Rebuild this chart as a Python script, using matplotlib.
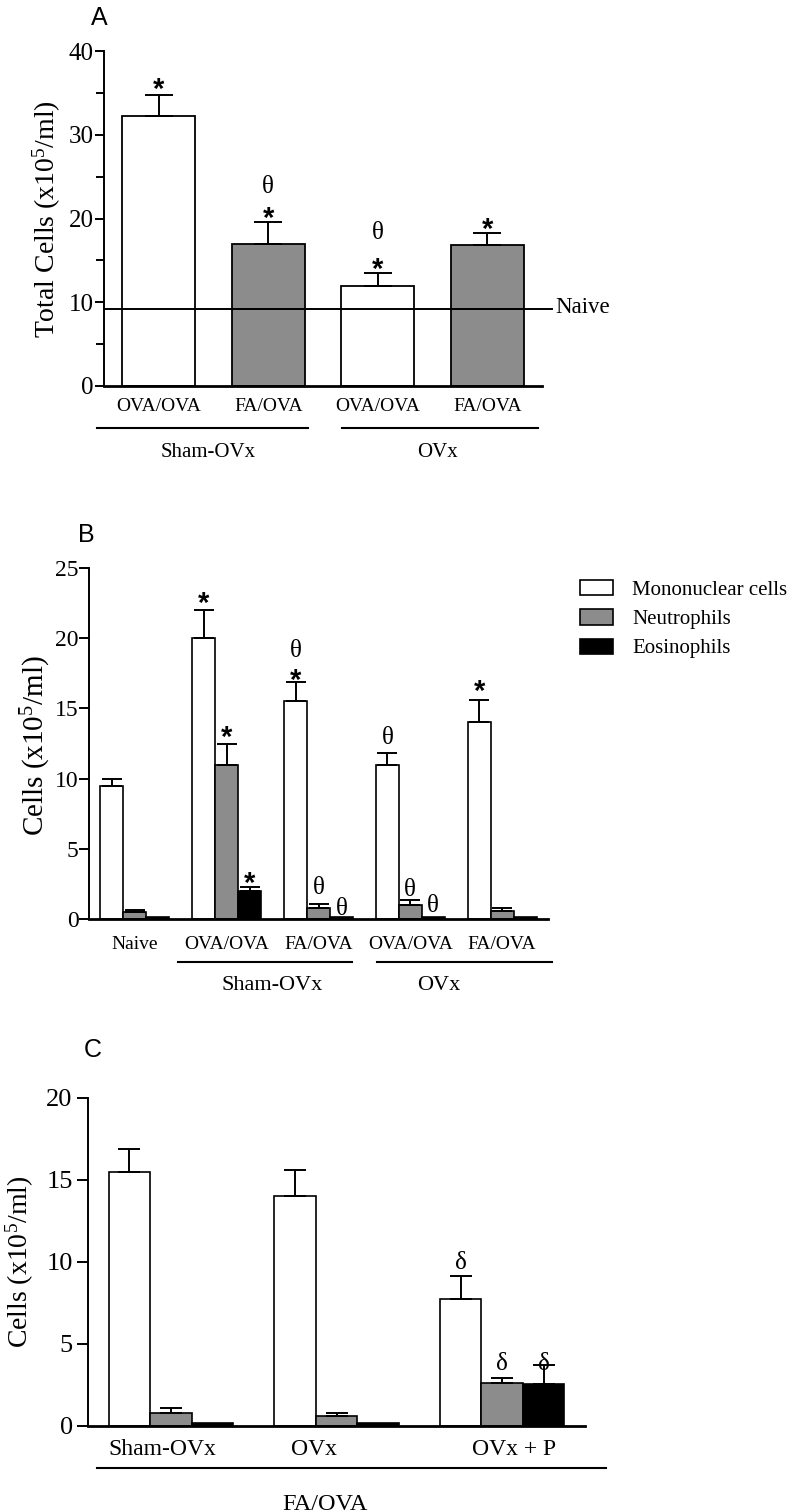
import matplotlib
matplotlib.use('Agg')
import matplotlib.pyplot as plt
from matplotlib.lines import Line2D
import numpy as np

# ---------------- data ----------------
# Panel A: total cells
A_labels = ['OVA/OVA', 'FA/OVA', 'OVA/OVA', 'FA/OVA']
A_groups = ['Sham-OVx', 'OVx']
A_total = [32.2, 17.0, 12.0, 16.8]
A_err = [2.5, 2.6, 1.5, 1.5]
A_naive = 9.15
A_star_y = [36.4, 21.0, 14.9, 19.7]
A_theta_y = [np.nan, 24.1, 18.6, np.nan]

# Panel B: cell types
B_labels = ['Naive', 'OVA/OVA', 'FA/OVA', 'OVA/OVA', 'FA/OVA']
B_groups = ['Sham-OVx', 'OVx']
series_names = ['Mononuclear cells', 'Neutrophils', 'Eosinophils']
B_mono = [9.5, 20.0, 15.5, 11.0, 14.0]
B_mono_err = [0.5, 2.0, 1.4, 0.8, 1.6]
B_neut = [0.5, 11.0, 0.76, 0.97, 0.57]
B_neut_err = [0.17, 1.5, 0.29, 0.38, 0.19]
B_eos = [0.17, 2.0, 0.17, 0.17, 0.17]
B_eos_err = [np.nan, 0.25, np.nan, np.nan, np.nan]
# (group, series, y)
B_stars = [(1, 0, 23.1), (1, 1, 13.5), (1, 2, 3.13), (2, 0, 17.6), (4, 0, 16.8)]
B_thetas = [(2, 0, 19.3), (2, 1, 2.4), (2, 2, 0.88), (3, 0, 13.05), (3, 1, 2.26), (3, 2, 1.12)]

# Panel C: FA/OVA groups
C_labels = ['Sham-OVx', 'OVx', 'OVx + P']
C_group = 'FA/OVA'
C_mono = [15.5, 14.0, 7.75]
C_mono_err = [1.4, 1.6, 1.4]
C_neut = [0.8, 0.6, 2.65]
C_neut_err = [0.3, 0.18, 0.3]
C_eos = [0.2, 0.2, 2.55]
C_eos_err = [np.nan, np.nan, 1.2]
C_deltas = [(2, 0, 10.08), (2, 1, 3.92), (2, 2, 3.92)]

# ---------------- style ----------------
SERIF = ['Liberation Serif', 'DejaVu Serif']
SANS = ['Liberation Sans', 'DejaVu Sans']
plt.rcParams['font.family'] = SERIF
plt.rcParams['mathtext.fontset'] = 'custom'
plt.rcParams['mathtext.rm'] = 'Liberation Serif'
plt.rcParams['mathtext.it'] = 'Liberation Serif:italic'

GRAY = '#8c8c8c'
SERIES_COLORS = ['white', GRAY, 'black']

W, H, DPI = 794, 1512, 100
fig = plt.figure(figsize=(W / DPI, H / DPI), dpi=DPI)


def fx(p):
    return p / W


def fy(p):
    return 1 - p / H


def rect(l, t, r, b):
    return [fx(l), fy(b), fx(r) - fx(l), fy(t) - fy(b)]


def hline_px(x0, x1, y, lw=1.5):
    fig.add_artist(Line2D([fx(x0), fx(x1)], [fy(y), fy(y)], color='black', lw=lw))


def text_px(x, y, s, size, **kw):
    fig.text(fx(x), fy(y), s, fontsize=size, ha='center', va='center_baseline', **kw)


def style_axes(ax, ticklen, ticksize, pad):
    for s in ['top', 'right']:
        ax.spines[s].set_visible(False)
    ax.spines['left'].set_linewidth(1.4)
    ax.spines['bottom'].set_linewidth(2.0)
    ax.tick_params(axis='y', which='major', length=ticklen, width=1.4,
                   labelsize=ticksize, pad=pad, direction='out')
    ax.tick_params(axis='x', length=0)


STAR_FS = 21
GREEK_FS = 18


def star(ax, x, y):
    ax.annotate('*', (x, y), xytext=(0, -0.575 * STAR_FS), textcoords='offset points',
                ha='center', va='baseline', fontsize=STAR_FS, family=SANS,
                fontweight='bold', annotation_clip=False)


def greek(ax, x, y, s):
    ax.annotate(s, (x, y), xytext=(0, -0.34 * GREEK_FS), textcoords='offset points',
                ha='center', va='baseline', fontsize=GREEK_FS, family=SERIF,
                annotation_clip=False)


def upper_err(ax, x, y, e, cap):
    e = np.asarray(e, dtype=float)
    ok = ~np.isnan(e)
    x = np.asarray(x)[ok]
    y = np.asarray(y, dtype=float)[ok]
    e = e[ok]
    ax.errorbar(x, y, yerr=[np.zeros_like(e), e], fmt='none', ecolor='black',
                elinewidth=1.4, capsize=cap, capthick=1.4, zorder=3)


# ---------------- Panel A ----------------
axA = fig.add_axes(rect(104, 51, 542, 386))
xA = np.arange(len(A_labels))
A_colors = ['white', GRAY, 'white', GRAY]
axA.bar(xA, A_total, width=0.665, color=A_colors, edgecolor='black', linewidth=1.3, zorder=2)
upper_err(axA, xA, A_total, A_err, 10)
axA.set_xlim(-0.5, 3.5)
axA.set_ylim(0, 40)
axA.set_yticks([0, 10, 20, 30, 40])
axA.set_yticks([5, 15, 25, 35], minor=True)
style_axes(axA, 6.5, 18, 1)
axA.tick_params(axis='y', which='minor', length=5.5, width=1.4)
axA.set_xticks(xA)
axA.set_xticklabels(A_labels, fontsize=14)
axA.tick_params(axis='x', pad=8.9)
axA.plot([-0.5, 3.59], [A_naive, A_naive], color='black', lw=1.4, clip_on=False, zorder=4)
axA.text(3.625, A_naive + 0.5, 'Naive', fontsize=16.5, ha='left', va='center_baseline')
for i in range(len(A_labels)):
    star(axA, xA[i], A_star_y[i])
    if not np.isnan(A_theta_y[i]):
        greek(axA, xA[i], A_theta_y[i], 'θ')
hline_px(97, 308, 428)
hline_px(342, 538, 428)
text_px(208, 450, A_groups[0], 15)
text_px(437, 450, A_groups[1], 15)
fig.text(fx(47), fy(219), r'Total Cells (x10$^{\mathrm{5}}$/ml)', rotation=90,
         ha='center', va='center', fontsize=20)
fig.text(fx(99), fy(18), 'A', family=SANS, fontsize=18, ha='center', va='center')

# ---------------- Panel B ----------------
axB = fig.add_axes(rect(89, 568, 548, 919))
xB = np.arange(len(B_labels))
bw = 0.25
B_vals = [B_mono, B_neut, B_eos]
B_errs = [B_mono_err, B_neut_err, B_eos_err]
handles = []
for k in range(3):
    xs = xB + (k - 1) * bw
    h = axB.bar(xs, B_vals[k], width=bw, color=SERIES_COLORS[k], edgecolor='black',
                linewidth=1.2, zorder=2, label=series_names[k])
    handles.append(h)
    upper_err(axB, xs, B_vals[k], B_errs[k], 7)
axB.set_xlim(-0.5, 4.5)
axB.set_ylim(0, 25)
axB.set_yticks([0, 5, 10, 15, 20, 25])
style_axes(axB, 7, 17, 0.5)
axB.set_xticks(xB)
axB.set_xticklabels(B_labels, fontsize=14)
axB.tick_params(axis='x', pad=12.5)
for g, k, y in B_stars:
    star(axB, xB[g] + (k - 1) * bw, y)
for g, k, y in B_thetas:
    greek(axB, xB[g] + (k - 1) * bw, y, 'θ')
hline_px(178, 352, 962)
hline_px(377, 552, 962)
text_px(272, 983, B_groups[0], 16)
text_px(439, 983, B_groups[1], 16)
fig.text(fx(36), fy(745), r'Cells (x10$^{\mathrm{5}}$/ml)', rotation=90,
         ha='center', va='center', fontsize=21)
fig.text(fx(86), fy(535), 'B', family=SANS, fontsize=18, ha='center', va='center')
fig.legend(handles=handles, labels=series_names, loc='upper left',
           bbox_to_anchor=(fx(580), fy(580)), frameon=False, fontsize=15,
           handlelength=1.6, handleheight=0.75, handletextpad=0.9,
           labelspacing=0.45, borderpad=0, borderaxespad=0)

# ---------------- Panel C ----------------
axC = fig.add_axes(rect(88, 1098, 585, 1426))
xC = np.arange(len(C_labels))
C_vals = [C_mono, C_neut, C_eos]
C_errs = [C_mono_err, C_neut_err, C_eos_err]
for k in range(3):
    xs = xC + (k - 1) * bw
    axC.bar(xs, C_vals[k], width=bw, color=SERIES_COLORS[k], edgecolor='black',
            linewidth=1.2, zorder=2)
    upper_err(axC, xs, C_vals[k], C_errs[k], 8)
axC.set_xlim(-0.5, 2.5)
axC.set_ylim(0, 20)
axC.set_yticks([0, 5, 10, 15, 20])
style_axes(axC, 8, 19, 3)
C_label_pos = [-0.054, 0.867, 2.07]
axC.set_xticks(C_label_pos)
axC.set_xticklabels(C_labels, fontsize=17)
axC.tick_params(axis='x', pad=9.4)
for g, k, y in C_deltas:
    greek(axC, xC[g] + (k - 1) * bw, y, 'δ')
hline_px(97, 606, 1468)
text_px(325, 1502, C_group, 17.5)
fig.text(fx(20), fy(1262), r'Cells (x10$^{\mathrm{5}}$/ml)', rotation=90,
         ha='center', va='center', fontsize=20)
fig.text(fx(93), fy(1050), 'C', family=SANS, fontsize=18, ha='center', va='center')

fig.savefig('out.png', dpi=DPI)
